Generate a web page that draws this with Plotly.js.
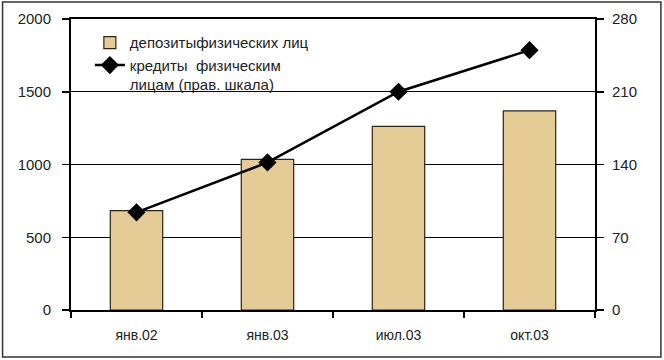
<!DOCTYPE html>
<html>
<head>
<meta charset="utf-8">
<script src="https://cdn.plot.ly/plotly-3.0.1.min.js"></script>
<style>
html,body{margin:0;padding:0;background:#fff;}
#chart{width:664px;height:360px;}
</style>
</head>
<body>
<div id="chart"></div>
<script>
const categories = ["янв.02", "янв.03", "июл.03", "окт.03"];
const deposits = [683, 1035, 1262, 1368];
const credits = [94, 142, 210, 250];
const leftTicks = [0, 500, 1000, 1500, 2000];
const rightTicks = [0, 70, 140, 210, 280];

const font = {family: "Liberation Sans, Arial, sans-serif", color: "#222"};

const traces = [
  {
    type: "bar",
    x: categories,
    y: deposits,
    name: "депозитыфизических лиц",
    width: 0.4,
    marker: {color: "#E5CB96", line: {color: "#2e2414", width: 1.2}},
    hoverinfo: "none"
  },
  {
    type: "scatter",
    mode: "lines+markers",
    x: categories,
    y: credits,
    yaxis: "y2",
    name: "кредиты  физическим<br>лицам (прав. шкала)",
    line: {color: "#000", width: 2.5},
    marker: {symbol: "diamond", size: 14, color: "#000"},
    hoverinfo: "none"
  }
];

const layout = {
  width: 664,
  height: 360,
  margin: {l: 70.5, r: 69, t: 19, b: 50, pad: 0},
  paper_bgcolor: "#fff",
  plot_bgcolor: "#fff",
  font: Object.assign({size: 15}, font),
  showlegend: true,
  bargap: 0.6,
  legend: {
    x: 0.036, y: 0.975, xanchor: "left", yanchor: "top",
    bgcolor: "rgba(0,0,0,0)",
    font: Object.assign({size: 15}, font),
    valign: "top",
    tracegroupgap: 0
  },
  xaxis: {
    type: "category",
    tickson: "boundaries",
    ticks: "outside",
    ticklen: 6,
    tickwidth: 1.5,
    tickcolor: "#000",
    showline: true,
    linecolor: "#000",
    linewidth: 2,
    mirror: true,
    showgrid: false,
    tickfont: Object.assign({size: 14}, font),
    ticklabelstandoff: 11
  },
  yaxis: {
    range: [0, 2000],
    tickvals: leftTicks,
    ticktext: leftTicks.map(String),
    ticks: "outside",
    ticklen: 7,
    tickwidth: 1.5,
    tickcolor: "#000",
    showline: true,
    linecolor: "#000",
    linewidth: 2,
    showgrid: true,
    gridcolor: "#000",
    gridwidth: 1,
    zeroline: false,
    tickfont: Object.assign({size: 15}, font),
    ticklabelstandoff: 8
  },
  yaxis2: {
    overlaying: "y",
    side: "right",
    range: [0, 280],
    tickvals: rightTicks,
    ticktext: rightTicks.map(String),
    ticks: "outside",
    ticklen: 7,
    tickwidth: 1.5,
    tickcolor: "#000",
    showline: true,
    linecolor: "#000",
    linewidth: 2,
    showgrid: false,
    zeroline: false,
    tickfont: Object.assign({size: 15}, font),
    ticklabelstandoff: 5
  },
  shapes: [
    {
      type: "rect", xref: "paper", yref: "paper",
      x0: -0.1306, x1: 1.1258, y0: -0.1615, y1: 1.058,
      line: {color: "#333", width: 1.5},
      fillcolor: "rgba(0,0,0,0)",
      layer: "below"
    }
  ]
};

Plotly.newPlot("chart", traces, layout, {displayModeBar: false, staticPlot: true});
</script>
</body>
</html>
